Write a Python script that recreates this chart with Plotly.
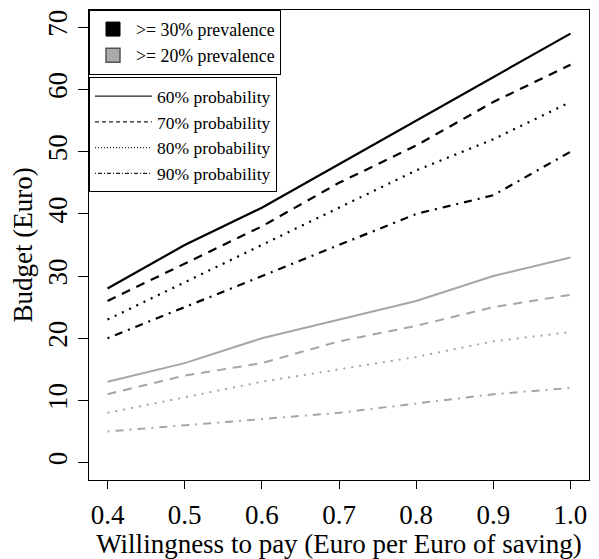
import plotly.graph_objects as go

wtp = [0.4, 0.5, 0.6, 0.7, 0.8, 0.9, 1.0]

# >= 30% prevalence (black)
p30_60 = [28, 35, 41, 48, 55, 62, 69]
p30_70 = [26, 32, 38, 45, 51, 58, 64]
p30_80 = [23, 29, 35, 41, 47, 52, 58]
p30_90 = [20, 25, 30, 35, 40, 43, 50]

# >= 20% prevalence (gray)
p20_60 = [13, 16, 20, 23, 26, 30, 33]
p20_70 = [11, 14, 16, 19.5, 22, 25, 27]
p20_80 = [8, 10.5, 13, 15, 17, 19.5, 21]
p20_90 = [5, 6, 7, 8, 9.5, 11, 12]

prev_labels = [">= 30% prevalence", ">= 20% prevalence"]
prob_labels = ["60% probability", "70% probability", "80% probability", "90% probability"]
x_ticks = [0.4, 0.5, 0.6, 0.7, 0.8, 0.9, 1.0]
x_ticktext = ["0.4", "0.5", "0.6", "0.7", "0.8", "0.9", "1.0"]
y_ticks = [0, 10, 20, 30, 40, 50, 60, 70]

FONT = "Liberation Serif, Times New Roman, serif"
BLACK = "#000000"
GRAY = "#a6a6a6"
dashes = ["solid", "9px,7px", "2px,6px", "2px,6px,8px,6px"]
legend_dashes = ["solid", "4px,3px", "1px,2px", "1px,2px,4px,2px"]

fig = go.Figure()

for series, dash in zip([p30_60, p30_70, p30_80, p30_90], dashes):
    fig.add_trace(go.Scatter(x=wtp, y=series, mode="lines", showlegend=False,
                             line=dict(color=BLACK, width=2.2, dash=dash)))
for series, dash in zip([p20_60, p20_70, p20_80, p20_90], dashes):
    fig.add_trace(go.Scatter(x=wtp, y=series, mode="lines", showlegend=False,
                             line=dict(color=GRAY, width=2, dash=dash)))

# legend 1: prevalence
fig.add_trace(go.Scatter(x=[None], y=[None], mode="markers", name=prev_labels[0],
                         legend="legend",
                         marker=dict(symbol="square", size=14, color=BLACK,
                                     line=dict(color=BLACK, width=1))))
fig.add_trace(go.Scatter(x=[None], y=[None], mode="markers", name=prev_labels[1],
                         legend="legend",
                         marker=dict(symbol="square", size=14, color="#aaaaaa",
                                     line=dict(color="#555555", width=1.5))))
# legend 2: probability
for lab, dash in zip(prob_labels, legend_dashes):
    fig.add_trace(go.Scatter(x=[None], y=[None], mode="lines", name=lab,
                             legend="legend2",
                             line=dict(color="#222222", width=1.2, dash=dash)))

# the page body adds an 8px offset, so the figure is 8px smaller
fig.update_layout(
    width=591, height=551,
    margin=dict(l=81, r=10, t=2, b=79, autoexpand=False),
    paper_bgcolor="white", plot_bgcolor="white",
    font=dict(family=FONT, color="black", size=27),
    legend=dict(x=0, y=1, xanchor="left", yanchor="top",
                bordercolor="black", borderwidth=1, bgcolor="white",
                font=dict(family=FONT, size=17.8, color="black"),
                itemwidth=36, tracegroupgap=0),
    legend2=dict(x=0, y=0.857, xanchor="left", yanchor="top",
                 bordercolor="black", borderwidth=1, bgcolor="white",
                 font=dict(family=FONT, size=17.5, color="black"),
                 itemwidth=57, tracegroupgap=0),
)

fig.update_xaxes(
    range=[0.376, 1.024], tickvals=x_ticks, ticktext=x_ticktext,
    showline=True, linecolor="black", linewidth=1, mirror=True,
    ticks="outside", ticklen=8, tickcolor="black", tickwidth=1,
    showgrid=False, zeroline=False, automargin=False, ticklabelstandoff=3,
    tickfont=dict(family=FONT, size=27, color="black"),
    title=dict(text="Willingness to pay (Euro per Euro of saving)",
               font=dict(family=FONT, size=27, color="black"), standoff=0),
)
fig.update_yaxes(
    range=[-2.8, 72.8], tickvals=y_ticks,
    showline=True, linecolor="black", linewidth=1, mirror=True,
    ticks="outside", ticklen=10, tickcolor="black", tickwidth=1,
    showgrid=False, zeroline=False, tickangle=-90, automargin=False,
    tickfont=dict(family=FONT, size=27, color="black"),
    title=dict(text="Budget (Euro)",
               font=dict(family=FONT, size=27, color="black"), standoff=8),
)

fig.write_html("out.html")
